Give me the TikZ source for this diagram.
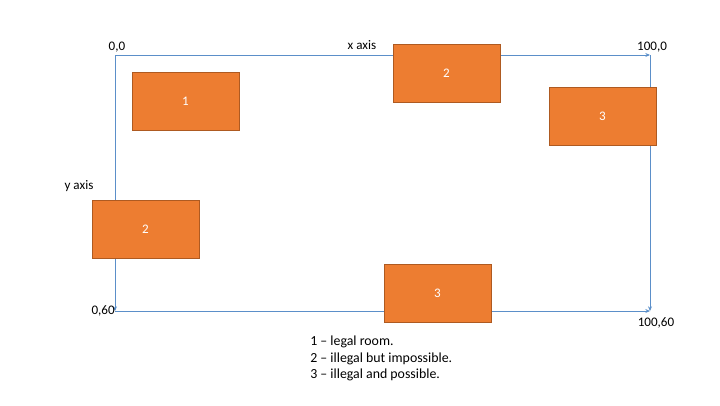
\documentclass[tikz,border=0pt]{standalone}
\usepackage{fontspec}
\setmainfont{Carlito}
\usetikzlibrary{arrows.meta}
\definecolor{roomfill}{HTML}{ED7D31}
\definecolor{roomedge}{HTML}{AE5A21}
\definecolor{axisblue}{HTML}{5B8FC9}

\begin{document}
\begin{tikzpicture}[
		x=0.75pt, y=-0.75pt,
		every node/.style={font=\fontsize{9.8}{12}\selectfont},
		room/.style={rectangle, draw=roomedge, fill=roomfill, text=white, minimum width=80.25pt, minimum height=43.5pt, inner sep=0pt},
		axisline/.style={draw=axisblue, line width=0.6pt, -{Stealth[length=3.5pt, width=3pt]}}
	]
  \useasboundingbox (0,0) rectangle (720,405);
  \coordinate (o) at (115,55);
  \coordinate (xe) at (650,55);
  \coordinate (ye) at (115,311);
  \coordinate (xye) at (650,311);
  \draw [axisline] (o) -- (xe);
  \draw [axisline] (o) -- (ye);
  \draw [axisline] (xe) -- (xye);
  \draw [axisline] (ye) -- (xye);
  \node (o_label) at (117,47) {0,0};
  \node (xe_label) at (652,47) {100,0};
  \node (ye_label) [anchor=east, inner sep=0pt] at (115,311) {0,60};
  \node (xye_label) at (656,323) {100,60};
  \node (x_axis) at (362,45) {x axis};
  \node (y_axis) at (79,186) {y axis};
  \node (r1) [room] at (185.5,101) {1};
  \node (r2_top) [room] at (446.5,73) {2};
  \node (r2_left) [room] at (145.5,229) {2};
  \node (r3_right) [room] at (602.5,116) {3};
  \node (r3_bottom) [room] at (437.5,293) {3};
  \node (legend) [anchor=north west, align=left, inner sep=0pt, font=\fontsize{10.4}{12.4}\selectfont] at (310,336) {1 -- legal room.\\2 -- illegal but impossible.\\3 -- illegal and possible.};
\end{tikzpicture}
\end{document}
